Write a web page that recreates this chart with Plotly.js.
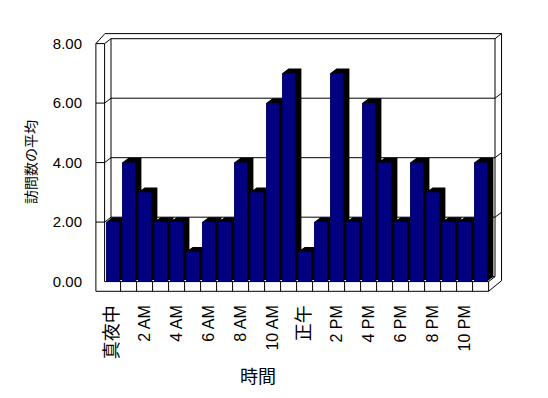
<!DOCTYPE html>
<html>
<head>
<meta charset="utf-8">
<script src="https://cdn.plot.ly/plotly-3.0.1.min.js"></script>
<style>html,body{margin:0;padding:0;background:#fff;}#chart{width:548px;height:398px;}</style>
</head>
<body>
<div id="chart"></div>
<script>
// ---- data ----
var hours = ['真夜中','1 AM','2 AM','3 AM','4 AM','5 AM','6 AM','7 AM','8 AM','9 AM','10 AM','11 AM',
             '正午','1 PM','2 PM','3 PM','4 PM','5 PM','6 PM','7 PM','8 PM','9 PM','10 PM','11 PM'];
var avgVisits = [2,4,3,2,2,1,2,2,4,3,6,7,1,2,7,2,6,4,2,4,3,2,2,4];
var yTicks = [0,2,4,6,8];
var xTitle = '時間';
var yTitle = '訪問数の平均';

// ---- 3D look parameters (axis units) ----
var half = 0.40, dX = 0.40, dY = 0.165;
var XL = -1.044, XI = -0.5, XB = XI + dX, XRf = hours.length - 0.5, XRb = XRf + dX, XRo = 24.31;
var YT = 8, YTb = 8 + dY, YTo = 8.336, YF = -0.326;

var shadowX = [], shadowY = [], frontX = [], frontY = [];
avgVisits.forEach(function (v, i) {
  var x0 = i - half, x1 = i + half;
  shadowX.push(x0, x0, x0 + dX, x1 + dX, x1 + dX, x1, x0, null);
  shadowY.push(0, v, v + dY, v + dY, dY, 0, 0, null);
  frontX.push(x0, x0, x1, x1, x0, null);
  frontY.push(0, v, v, 0, 0, null);
});

var traces = [
  {type:'scatter', mode:'lines', x:shadowX, y:shadowY, fill:'toself', fillcolor:'#000000',
   line:{width:0, color:'#000000'}, hoverinfo:'skip', showlegend:false},
  {type:'scatter', mode:'lines', x:frontX, y:frontY, fill:'toself', fillcolor:'#000080',
   line:{width:0, color:'#000080'}, hoverinfo:'skip', showlegend:false}
];

function seg(x0, y0, x1, y1) {
  return {type:'line', xref:'x', yref:'y', x0:x0, y0:y0, x1:x1, y1:y1,
          line:{color:'#000', width:1}, layer:'below'};
}
var shapes = [];
// outer frame
shapes.push({type:'path', xref:'x', yref:'y', layer:'below', line:{color:'#000', width:1},
  path:'M'+XL+','+YT+' L-0.48,'+YTo+' L'+XRo+','+YTo+' L'+XRo+',0.03 L'+XRf+','+YF+' L'+XL+','+YF+' Z'});
// left wall
shapes.push(seg(XL, YT, XI, YT));
shapes.push(seg(XI, 0, XI, YT));
shapes.push(seg(XI, YT, XB, YTb));
// back wall
shapes.push(seg(XB, YTb, XRb, YTb));
shapes.push(seg(XB, dY, XB, YTb));
shapes.push(seg(XRb, dY, XRb, YTb));
shapes.push(seg(XB, dY, XRb, dY));
shapes.push(seg(XRo, YTo, XRb, YTb));
// gridlines
[2,4,6].forEach(function (v) {
  shapes.push(seg(XL, v, XI, v));
  shapes.push(seg(XI, v, XB, v + dY));
  shapes.push(seg(XB, v + dY, XRb, v + dY));
  shapes.push(seg(XRb, v + dY, XRo, v + 2*dY));
});
// floor
shapes.push(seg(XI, 0, XRf, 0));
shapes.push(seg(XRb, dY, XRf, 0));
for (var k = 0; k < hours.length; k++) shapes.push(seg(k + 0.5, YF, k + 0.5, 0));

var cjk = /[\u3000-\u9fff]/;
var tickIdx = [], tickTxt = [];
hours.forEach(function (h, i) {
  if (i % 2 === 0) {
    tickIdx.push(i);
    tickTxt.push(cjk.test(h) ? '<span style="font-size:18px">' + h + '</span>' : h);
  }
});

var fontFam = 'Liberation Sans, Arial, Noto Sans CJK JP, sans-serif';
var layout = {
  width:548, height:398,
  margin:{l:95, r:45, t:32, b:106},
  paper_bgcolor:'#fff', plot_bgcolor:'#fff',
  showlegend:false,
  font:{family:fontFam, size:15, color:'#000'},
  xaxis:{range:[-1.1, 24.4], tickvals:tickIdx, ticktext:tickTxt, tickangle:-90,
         showgrid:false, zeroline:false, showline:false, ticks:'', ticklabelstandoff:9,
         tickfont:{size:16, color:'#000'}, fixedrange:true},
  yaxis:{range:[-0.35, 8.39], tickvals:yTicks, tickformat:'.2f',
         showgrid:false, zeroline:false, showline:false, ticks:'', ticklabelstandoff:12,
         tickfont:{size:15, color:'#000'}, fixedrange:true},
  shapes:shapes,
  annotations:[
    {text:xTitle, xref:'paper', yref:'paper', x:(258-95)/408, y:(292-375)/260,
     xanchor:'center', yanchor:'middle', showarrow:false,
     font:{family:'Noto Sans CJK JP, sans-serif', size:18, color:'#000'}},
    {text:yTitle, xref:'paper', yref:'paper', x:(30-95)/408, y:(292-162)/260, textangle:-90,
     xanchor:'center', yanchor:'middle', showarrow:false,
     font:{family:'Noto Sans CJK JP, sans-serif', size:14, color:'#000'}}
  ]
};
Plotly.newPlot('chart', traces, layout, {staticPlot:true, displayModeBar:false});
</script>
</body>
</html>
